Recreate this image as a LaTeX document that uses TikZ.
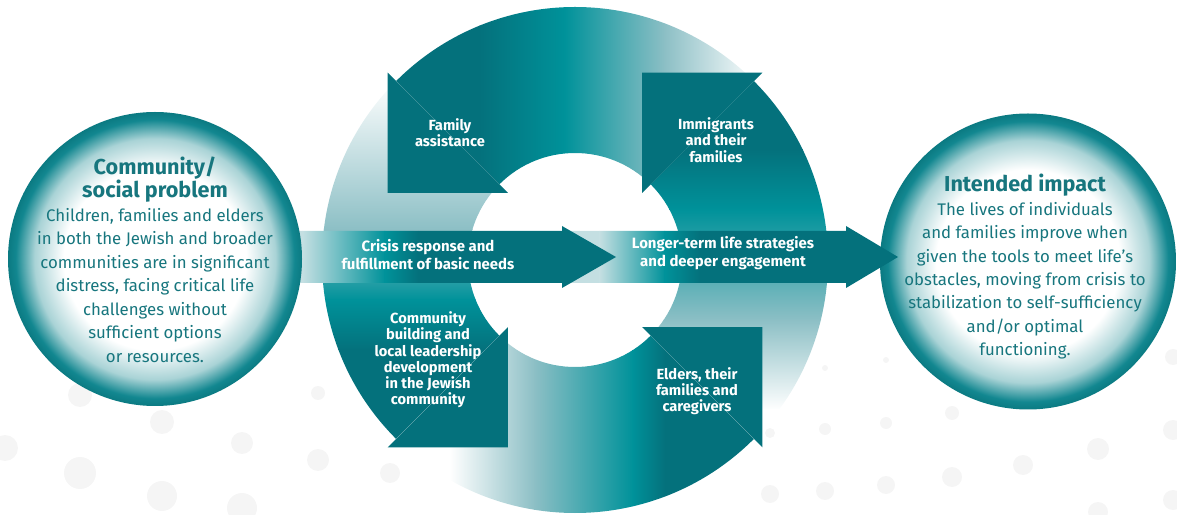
\documentclass[tikz,border=0pt]{standalone}
\usepackage{fontspec}
\setmainfont{Fira Sans}
\usetikzlibrary{calc,positioning}
\definecolor{tealdark}{HTML}{04717C}
\definecolor{tealbright}{HTML}{00929A}
\definecolor{teallight}{HTML}{8CBFC5}
\definecolor{barlight}{HTML}{C4DFE2}
\definecolor{bubblemid}{HTML}{A9D3D6}
\definecolor{tealring}{HTML}{128790}
\definecolor{tealrim}{HTML}{0B7A82}
\definecolor{circtext}{HTML}{17767E}
\definecolor{dotgray}{HTML}{F5F5F5}
\pgfdeclareradialshading{bubble}{\pgfpoint{0bp}{0bp}}{color(0bp)=(white); color(15.5bp)=(white); color(20.5bp)=(bubblemid); color(23.7bp)=(tealring); color(25bp)=(tealrim); color(50bp)=(tealrim)}

\begin{document}
\begin{tikzpicture}[
  x=0.75pt, y=0.75pt,
  lbl/.style={text=white, font=\bfseries\fontsize{11}{12.2}\selectfont, align=center, inner sep=0pt},
  barlbl/.style={lbl, font=\bfseries\fontsize{11.2}{13.3}\selectfont},
  bubblenode/.style={circle, shading=bubble, minimum size=#1, inner sep=0pt},
  ttl/.style={text=circtext, font=\bfseries\fontsize{16.2}{17.5}\selectfont, align=center, inner sep=0pt},
  bodytxt/.style={text=circtext, font=\fontsize{12.6}{17.6}\selectfont, align=center, inner sep=0pt},
  ringpart/.style 2 args={insert path={(#1:253) arc[start angle=#1, end angle=#2, radius=253] -- (#2:107) arc[start angle=#2, end angle=#1, radius=107] -- cycle}},
  barpath/.style n args={3}{insert path={(#1,231) -- (#2,231) -- (#2,226) -- (#3,257) -- (#2,288) -- (#2,283) -- (#1,283) -- cycle}}
]
  \useasboundingbox (0,0) rectangle (1177,514);
  \foreach \x/\y/\r in {80/119/12, 162/92/12, 5/66/13, 80/41/16, 162/18/15, 242/71/11, 318/121/7, 318/54/11, 242/6/15, 390/41/10,
      770/81/5, 825/85/6, 825/146/3, 886/154/3, 886/91/6, 952/101/7, 770/20/9, 825/23/9, 886/29/9, 952/37/10,
      1023/49/10, 1098/65/11, 1173/84/10, 1173/157/8, 1173/14/10, 1098/2/10}
    \fill[dotgray] (\x,\y) circle[radius=\r];

  \begin{scope}[shift={(575,254)}]
    \begin{scope}
      \path[clip, ringpart={45}{135}];
      \fill[tealdark] (-260,0) rectangle (-95,260);
      \shade[left color=tealdark, right color=tealbright] (-95.5,0) rectangle (-10,260);
      \shade[left color=tealbright, right color=teallight] (-10.5,0) rectangle (90,260);
      \shade[left color=teallight, right color=white] (89.5,0) rectangle (185,260);
      \fill[white] (184.5,0) rectangle (260,260);
    \end{scope}
    \begin{scope}
      \path[clip, ringpart={135}{225}];
      \fill[white] (-260,180) rectangle (0,260);
      \shade[top color=white, bottom color=teallight] (-260,30) rectangle (0,180.5);
      \shade[top color=teallight, bottom color=tealbright] (-260,-40) rectangle (0,30.5);
      \shade[top color=tealbright, bottom color=tealdark] (-260,-90) rectangle (0,-39.5);
      \fill[tealdark] (-260,-260) rectangle (0,-89.5);
    \end{scope}
    \begin{scope}
      \path[clip, ringpart={225}{315}];
      \fill[white] (-260,-260) rectangle (-125,0);
      \shade[left color=white, right color=teallight] (-125.5,-260) rectangle (-40,0);
      \shade[left color=teallight, right color=tealbright] (-40.5,-260) rectangle (58,0);
      \shade[left color=tealbright, right color=tealdark] (57.5,-260) rectangle (90,0);
      \fill[tealdark] (89.5,-260) rectangle (260,0);
    \end{scope}
    \begin{scope}
      \path[clip, ringpart={-45}{45}];
      \fill[tealdark] (0,110) rectangle (260,260);
      \shade[top color=tealdark, bottom color=tealbright] (0,50) rectangle (260,110.5);
      \shade[top color=tealbright, bottom color=teallight] (0,-60) rectangle (260,50.5);
      \shade[top color=teallight, bottom color=white] (0,-150) rectangle (260,-59.5);
      \fill[white] (0,-260) rectangle (260,-149.5);
    \end{scope}
    \foreach \a in {45,135,225,315}
      \fill[tealdark] (\a:265) -- ($(\a:180)+(\a+90:85)$) -- (\a:95) -- cycle;
  \end{scope}

  \node[bubblenode=222pt] (impact) at (1028,252.5) {};

  \begin{scope}
    \path[clip, barpath={570}{846}{898}];
    \fill[barlight] (560,220) rectangle (600,300);
    \shade[left color=barlight, right color=tealbright] (599.5,220) rectangle (665,300);
    \shade[left color=tealbright, right color=tealdark] (664.5,220) rectangle (700,300);
    \fill[tealdark] (699.5,220) rectangle (900,300);
  \end{scope}
  \begin{scope}
    \path[clip, barpath={200}{562}{616}];
    \fill[barlight] (200,220) rectangle (303,300);
    \shade[left color=barlight, right color=tealbright] (302.5,220) rectangle (385,300);
    \shade[left color=tealbright, right color=tealdark] (384.5,220) rectangle (418,300);
    \fill[tealdark] (417.5,220) rectangle (620,300);
  \end{scope}

  \node[bubblenode=220.5pt] (problem) at (155,255) {};

  \node[ttl] (problemttl) at (155,334.5) {Community/\\social problem};
  \node[bodytxt, below=4pt of problemttl] (problemtxt) {Children, families and elders\\in both the Jewish and broader\\communities are in significant\\distress, facing critical life\\challenges without\\sufficient options\\or resources.};
  \node[ttl] (impactttl) at (1025,329) {Intended impact};
  \node[bodytxt, below=4pt of impactttl] (impacttxt) {The lives of individuals\\and families improve when\\given the tools to meet life’s\\obstacles, moving from crisis to\\stabilization to self-sufficiency\\and/or optimal\\functioning.};

  \node[lbl] (famlbl) at (450,381) {Family\\assistance};
  \node[lbl] (immlbl) at (716,374) {Immigrants\\and their\\families};
  \node[lbl] (commlbl) at (428,154) {Community\\building and\\local leadership\\development\\in the Jewish\\community};
  \node[lbl] (eldlbl) at (697,123) {Elders, their\\families and\\caregivers};
  \node[barlbl] (crislbl) at (428,259.5) {Crisis response and\\fulfillment of basic needs};
  \node[barlbl] (longlbl) at (723,261) {Longer-term life strategies\\and deeper engagement};
\end{tikzpicture}
\end{document}
